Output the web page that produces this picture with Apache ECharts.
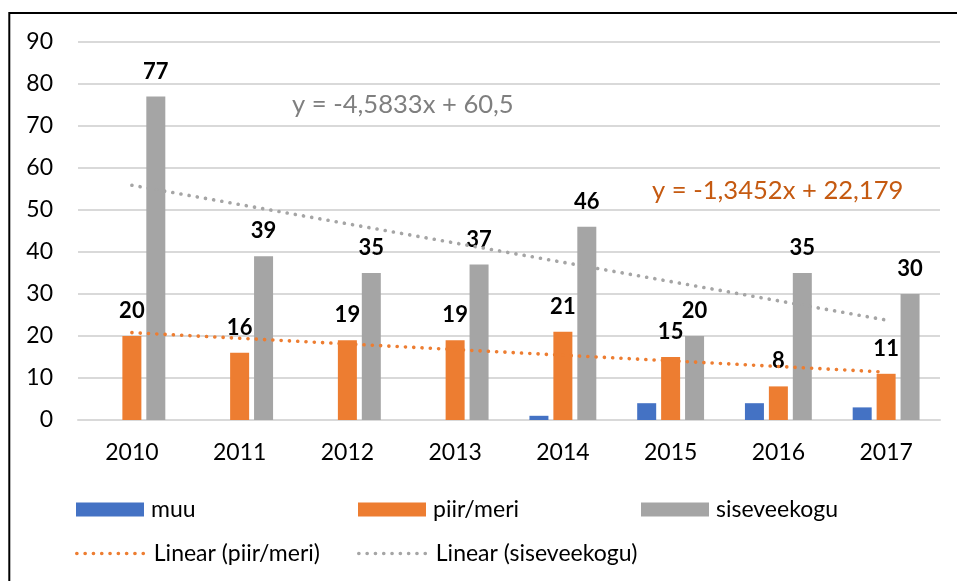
<!DOCTYPE html>
<html>
<head>
<meta charset="utf-8">
<script src="https://cdn.jsdelivr.net/npm/echarts@6/dist/echarts.min.js"></script>
<style>
html,body{margin:0;padding:0;background:#fff;}
#chart{width:957px;height:581px;}
</style>
</head>
<body>
<div id="chart"></div>
<script>
// ---- data ----
const categories = ['2010', '2011', '2012', '2013', '2014', '2015', '2016', '2017'];
const muu = [0, 0, 0, 0, 1, 4, 4, 3];
const piirMeri = [20, 16, 19, 19, 21, 15, 8, 11];
const siseveekogu = [77, 39, 35, 37, 46, 20, 35, 30];
// trend line end points
const trendPiirMeri = [20.8, null, null, null, null, null, null, 11.4];
const trendSiseveekogu = [55.9, null, null, null, null, null, null, 23.8];
const yTicks = {min: 0, max: 90, interval: 10};
const eqSise = 'y = -4,5833x + 60,5';
const eqPiir = 'y = -1,3452x + 22,179';

const FONT = 'Lato';
const BLUE = '#4472C4', ORANGE = '#ED7D31', GRAY = '#A5A5A5';

const chart = echarts.init(document.getElementById('chart'), null, {renderer: 'canvas'});

const dataLabel = {
  show: true, position: 'top', distance: 14,
  fontFamily: FONT, fontSize: 22, fontWeight: 'bold', color: '#000'
};
const dotted = (c) => ({color: c, width: 3.6, type: [0.1, 8.2], cap: 'round'});

const legendBase = {
  padding: 0, itemGap: 0, itemWidth: 68, itemHeight: 14,
  textStyle: {fontFamily: FONT, fontSize: 23, color: '#000', padding: [0, 0, 0, 2]}
};

chart.setOption({
  animation: false,
  backgroundColor: '#fff',
  grid: {left: 78, right: 17, top: 42, bottom: 161, containLabel: false},
  xAxis: {
    type: 'category', data: categories,
    axisLine: {lineStyle: {color: '#D9D9D9', width: 2}},
    axisTick: {show: false},
    axisLabel: {fontFamily: FONT, fontSize: 23, color: '#000', margin: 21}
  },
  yAxis: {
    type: 'value', min: yTicks.min, max: yTicks.max, interval: yTicks.interval,
    axisLine: {show: false}, axisTick: {show: false},
    splitLine: {lineStyle: {color: '#D9D9D9', width: 2}},
    axisLabel: {fontFamily: FONT, fontSize: 23, color: '#000', margin: 25}
  },
  legend: [
    Object.assign({}, legendBase, {data: [{name: 'muu', icon: 'rect'}], left: 76, top: 498}),
    Object.assign({}, legendBase, {data: [{name: 'piir/meri', icon: 'rect'}], left: 358, top: 498}),
    Object.assign({}, legendBase, {data: [{name: 'siseveekogu', icon: 'rect'}], left: 641, top: 498}),
    Object.assign({}, legendBase, {data: ['Linear (piir/meri)'], left: 75, top: 542, itemWidth: 70,
      itemStyle: {opacity: 0},
      lineStyle: {color: ORANGE, width: 3.6, type: [0.1, 8.2], cap: 'round', opacity: 1}}),
    Object.assign({}, legendBase, {data: ['Linear (siseveekogu)'], left: 357, top: 542, itemWidth: 70,
      itemStyle: {opacity: 0},
      lineStyle: {color: GRAY, width: 3.6, type: [0.1, 8.2], cap: 'round', opacity: 1}})
  ],
  series: [
    {name: 'muu', type: 'bar', data: muu, barWidth: 19, barGap: '26%',
     itemStyle: {color: BLUE}},
    {name: 'piir/meri', type: 'bar', data: piirMeri, barWidth: 19, barGap: '26%',
     itemStyle: {color: ORANGE}, label: dataLabel},
    {name: 'siseveekogu', type: 'bar', data: siseveekogu, barWidth: 19, barGap: '26%',
     itemStyle: {color: GRAY}, label: dataLabel},
    {name: 'Linear (piir/meri)', type: 'line', data: trendPiirMeri, connectNulls: true,
     symbol: 'none', itemStyle: {color: ORANGE}, lineStyle: dotted(ORANGE), z: 3},
    {name: 'Linear (siseveekogu)', type: 'line', data: trendSiseveekogu, connectNulls: true,
     symbol: 'none', itemStyle: {color: GRAY}, lineStyle: dotted(GRAY), z: 3}
  ],
  graphic: [
    {type: 'rect', shape: {x: 9.3, y: 13, width: 1200, height: 1200},
     style: {fill: 'none', stroke: '#000', lineWidth: 2}, silent: true, z: 100},
    {type: 'text', left: 292, top: 92,
     style: {text: eqSise, fontFamily: FONT, fontSize: 25.6, fill: '#7F7F7F'}},
    {type: 'text', left: 652, top: 178,
     style: {text: eqPiir, fontFamily: FONT, fontSize: 25.6, fill: '#C55A11'}}
  ]
});
</script>
</body>
</html>
